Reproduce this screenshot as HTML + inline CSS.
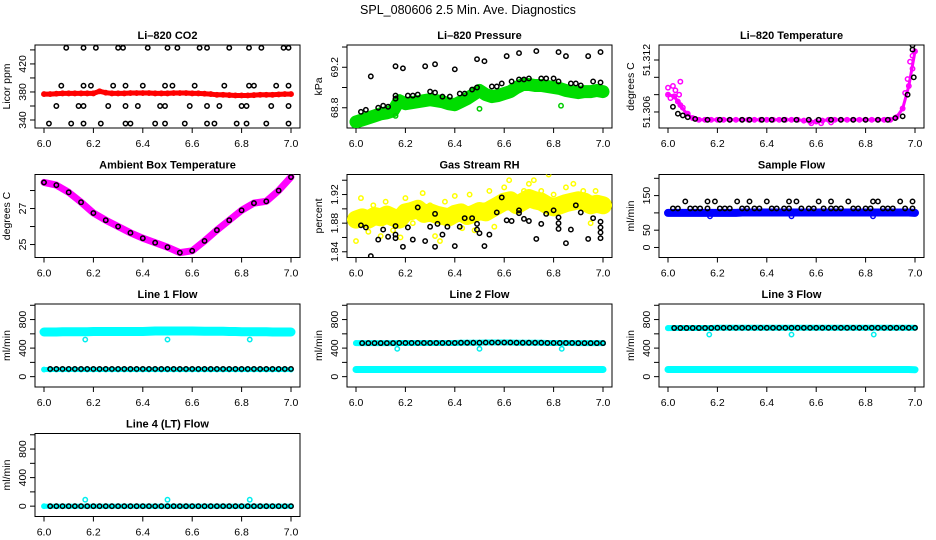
<!DOCTYPE html>
<html><head><meta charset="utf-8"><style>
html,body{margin:0;padding:0;background:#fff;}
svg{display:block;font-family:"Liberation Sans",sans-serif;}
</style></head><body>
<svg id="root" width="936" height="540" viewBox="0 0 936 540">
<text x="468" y="14" text-anchor="middle" font-size="12.5">SPL_080606  2.5 Min. Ave. Diagnostics</text>
</svg>
<script>
// shared time grid (days)
const T = [6.000,6.025,6.050,6.075,6.100,6.125,6.150,6.175,6.200,6.225,6.250,6.275,6.300,6.325,6.350,6.375,6.400,6.425,6.450,6.475,6.500,6.525,6.550,6.575,6.600,6.625,6.650,6.675,6.700,6.725,6.750,6.775,6.800,6.825,6.850,6.875,6.900,6.925,6.950,6.975,7.000];
const xTicks = [6.0,6.2,6.4,6.6,6.8,7.0];
const xTickLabels = ["6.0","6.2","6.4","6.6","6.8","7.0"];

// CO2
const co2Red = [377,377,377.5,378,378,378,378,378,378,381,379,378,378,378,378.5,378.5,378.5,378.5,378,378,378,378.5,378.5,378.5,378,378,377.5,377,376,376,375.5,375,375,375,375.5,376,376,376,376.5,377,377];
const co2BlkX = [6.09,6.16,6.21,6.30,6.32,6.42,6.50,6.54,6.63,6.66,6.75,6.83,6.88,6.97,6.99, 6.07,6.16,6.19,6.28,6.33,6.40,6.49,6.52,6.61,6.73,6.83,6.85,6.94,6.99, 6.05,6.14,6.16,6.26,6.33,6.38,6.47,6.49,6.59,6.66,6.71,6.80,6.82,6.92,6.99, 6.02,6.11,6.16,6.23,6.33,6.35,6.45,6.49,6.57,6.66,6.69,6.78,6.82,6.90,6.99];
const co2BlkY = [443,443,443,443,443,443,443,443,443,443,443,443,443,443,443, 389,389,389,389,389,389,389,389,389,389,389,389,389,389, 360,360,360,360,360,360,360,360,360,360,360,360,360,360,360, 335,335,335,335,335,335,335,335,335,335,335,335,335,335,335];

// Pressure
const presGreen = [68.66,68.68,68.70,68.72,68.74,68.75,68.77,68.87,68.84,68.85,68.86,68.87,68.88,68.87,68.86,68.84,68.83,68.86,68.89,68.93,68.97,68.93,68.91,68.92,68.94,68.96,69.00,69.03,69.03,69.02,69.02,69.01,69.00,68.99,68.97,68.96,68.95,68.96,68.96,68.97,68.96];
const presGreenOutX = [6.16,6.50,6.83];
const presGreenOutY = [68.72,68.79,68.82];
const presBlkX = [6.02,6.04,6.06,6.09,6.11,6.13,6.16,6.16,6.16,6.19,6.21,6.23,6.25,6.28,6.30,6.32,6.32,6.35,6.38,6.40,6.42,6.44,6.47,6.49,6.49,6.52,6.55,6.57,6.59,6.61,6.63,6.66,6.66,6.68,6.70,6.73,6.75,6.77,6.80,6.82,6.82,6.85,6.87,6.89,6.91,6.94,6.96,6.99,6.99];
const presBlkY = [68.76,68.78,69.11,68.80,68.82,68.81,68.89,68.92,69.21,69.19,68.92,68.92,68.93,69.21,68.96,69.23,68.95,68.91,68.91,69.18,68.94,68.94,68.98,69.00,69.28,69.26,69.01,69.01,69.04,69.31,69.06,69.08,69.34,69.08,69.09,69.36,69.09,69.09,69.09,69.35,69.06,69.31,69.04,69.04,69.02,69.31,69.06,69.35,69.05];

// Li-820 temperature
const tempPink = [51.3080,51.3078,51.3068,51.3058,51.3053,51.3051,51.3051,51.3051,51.3051,51.3051,51.3051,51.3051,51.3051,51.3051,51.3051,51.3051,51.3051,51.3051,51.3051,51.3051,51.3051,51.3051,51.3050,51.3049,51.3049,51.3050,51.3051,51.3051,51.3051,51.3051,51.3051,51.3051,51.3051,51.3051,51.3051,51.3051,51.3051,51.3054,51.3064,51.3090,51.3130];
const tempPinkX = [6.00,6.01,6.03,6.04,6.05,6.06,6.08,6.96,6.97,6.98,6.99,6.99,6.58,6.62,6.66,6.02,6.045];
const tempPinkY = [51.3088,51.3076,51.3085,51.3072,51.3095,51.3065,51.3058,51.3082,51.3098,51.3118,51.3125,51.3110,51.3047,51.3047,51.3048,51.3090,51.3080];
const tempBlkX = [6.02,6.04,6.06,6.08,6.11,6.16,6.21,6.25,6.30,6.33,6.38,6.42,6.47,6.52,6.57,6.61,6.66,6.70,6.75,6.80,6.85,6.89,6.92,6.95,6.97,6.99,6.99,6.995];
const tempBlkY = [51.3066,51.3058,51.3056,51.3054,51.3052,51.3051,51.3051,51.3051,51.3051,51.3051,51.3051,51.3051,51.3051,51.3051,51.3051,51.3051,51.3051,51.3051,51.3051,51.3051,51.3051,51.3051,51.3053,51.3055,51.3080,51.3132,51.3137,51.3100];

// Ambient box temperature
const ambX = [6.00,6.05,6.10,6.15,6.20,6.25,6.30,6.35,6.40,6.45,6.50,6.55,6.60,6.65,6.70,6.75,6.80,6.85,6.90,6.95,7.00];
const ambY = [28.45,28.3,27.9,27.35,26.75,26.35,26.0,25.65,25.35,25.1,24.85,24.55,24.65,25.2,25.8,26.35,26.9,27.3,27.4,28.0,28.75];

// Gas stream RH
const rhYellow = [1.885,1.888,1.885,1.89,1.888,1.892,1.888,1.885,1.895,1.897,1.9,1.893,1.895,1.892,1.89,1.888,1.893,1.895,1.89,1.893,1.897,1.895,1.9,1.905,1.91,1.912,1.905,1.91,1.915,1.912,1.91,1.905,1.902,1.905,1.908,1.91,1.912,1.91,1.905,1.907,1.905];
const rhYX = [6.0,6.02,6.05,6.07,6.1,6.12,6.15,6.18,6.2,6.23,6.27,6.3,6.32,6.34,6.36,6.4,6.43,6.46,6.48,6.52,6.54,6.56,6.6,6.62,6.65,6.68,6.7,6.72,6.75,6.78,6.8,6.82,6.85,6.88,6.9,6.92,6.95,6.97,6.99];
const rhYY = [1.855,1.915,1.868,1.905,1.862,1.91,1.87,1.86,1.915,1.88,1.922,1.905,1.862,1.855,1.91,1.918,1.873,1.92,1.87,1.905,1.925,1.875,1.93,1.94,1.9,1.925,1.935,1.94,1.925,1.948,1.92,1.895,1.93,1.935,1.915,1.925,1.88,1.925,1.9];
const rhBX = [6.02,6.04,6.06,6.09,6.11,6.13,6.16,6.16,6.16,6.19,6.21,6.23,6.25,6.28,6.30,6.32,6.32,6.33,6.35,6.37,6.40,6.42,6.44,6.47,6.49,6.49,6.50,6.52,6.54,6.57,6.59,6.61,6.63,6.66,6.66,6.68,6.70,6.73,6.75,6.77,6.80,6.82,6.82,6.82,6.85,6.87,6.89,6.91,6.94,6.96,6.99,6.99,6.99,6.99];
const rhBY = [1.877,1.874,1.834,1.857,1.871,1.861,1.859,1.876,1.864,1.847,1.874,1.857,1.902,1.855,1.875,1.847,1.893,1.879,1.864,1.875,1.848,1.875,1.887,1.887,1.879,1.871,1.866,1.848,1.864,1.895,1.916,1.884,1.883,1.894,1.898,1.886,1.883,1.858,1.879,1.893,1.898,1.888,1.872,1.880,1.852,1.871,1.905,1.895,1.858,1.887,1.859,1.874,1.882,1.867];

// Sample flow
const sfBlue = [100,100,100,100,100,100,100,100,100,100,100,100,101,101,101,101,101,101,101,101,101,101,101,101,101,101,101,101,101,101,101,101,101,101,101,101,101,101,101,101,100];
const sfBlueOutX = [6.17,6.50,6.83];
const sfBlueOutY = [90,90,90];
const sfBX = [6.07,6.16,6.19,6.28,6.33,6.40,6.49,6.52,6.61,6.66,6.73,6.83,6.85,6.94,6.99, 6.02,6.04,6.09,6.11,6.13,6.16,6.21,6.23,6.25,6.30,6.32,6.35,6.37,6.42,6.44,6.47,6.49,6.54,6.57,6.59,6.63,6.66,6.68,6.70,6.75,6.77,6.80,6.82,6.87,6.89,6.91,6.96,6.99];
const sfBY = [133,133,133,133,133,133,133,133,133,133,133,133,133,133,133, 113,113,113,113,113,113,113,113,113,113,113,113,113,113,113,113,113,113,113,113,113,113,113,113,113,113,113,113,113,113,113,113,113];

// Line flows
const l1CyanHi = [625,625,625,630,630,630,630,630,632,632,632,632,632,632,632,632,632,635,640,640,640,640,640,640,640,638,635,635,635,635,632,632,630,630,630,628,628,625,625,625,625];
const l1CyanLo = [100,100,100,100,100,100,100,100,100,100,100,100,100,100,100,100,100,100,100,100,100,100,100,100,100,100,100,100,100,100,100,100,100,100,100,100,100,100,100,100,100];
const l1Black = [108,108,108,108,108,108,108,108,108,108,108,108,108,108,108,108,108,108,108,108,108,108,108,108,108,108,108,108,108,108,108,108,108,108,108,108,108,108,108,108,108];
const l1OutY = [520,520,520];
const l2High = [470,470,470,470,470,470,470,472,472,472,472,472,472,472,472,472,472,475,475,475,475,478,478,478,478,478,475,475,475,475,475,472,472,472,472,472,470,470,470,470,470];
const l2Low = [100,100,100,100,100,100,100,100,100,100,100,100,100,100,100,100,100,100,100,100,100,100,100,100,100,100,100,100,100,100,100,100,100,100,100,100,100,100,100,100,100];
const l2OutY = [390,390,390];
const l3High = [680,682,682,682,682,682,682,682,684,684,684,684,684,684,684,684,684,684,684,684,684,684,684,684,684,684,684,684,684,684,684,684,684,684,684,684,684,684,684,684,684];
const l3Low = [100,100,100,100,100,100,100,100,100,100,100,100,100,100,100,100,100,100,100,100,100,100,100,100,100,100,100,100,100,100,100,100,100,100,100,100,100,100,100,100,98];
const l3OutY = [590,590,590];
const l4Val = [0,0,0,0,0,0,0,0,0,0,0,0,0,0,0,0,0,0,0,0,0,0,0,0,0,0,0,0,0,0,0,0,0,0,0,0,0,0,0,0,0];
const l4OutY = [90,90,90];
const flowOutX = [6.167,6.50,6.833];

const NS = "http://www.w3.org/2000/svg";
const root = document.getElementById('root');
function mk(tag, attrs, parent){ const e=document.createElementNS(NS,tag); for(const k in attrs) e.setAttribute(k,attrs[k]); (parent||root).appendChild(e); return e; }

function panel(col,row,name,title,ylab,dom,ticks,labels){
  const L=35+312*col, R=300+312*col, top=45+129.5*row, bot=top+83;
  const g=mk('g',{});
  
  
  const xs=v=>44+312*col+(v-6)*247;
  const ys=v=>bot-(v-dom[0])/(dom[1]-dom[0])*83;
  const box=mk('rect',{x:L,y:top,width:R-L,height:83,fill:'none',stroke:'#000','stroke-width':1},g);
  
  
  const t=mk('text',{x:(L+R)/2,y:top-6,'text-anchor':'middle','font-size':11,'font-weight':'bold'},g);
  t.textContent=title;
  
  
  const yl=mk('text',{transform:`translate(${L-25},${(top+bot)/2}) rotate(-90)`,'text-anchor':'middle','font-size':10.5},g);
  yl.textContent=ylab;
  
  
  const ya=mk('g',{},g);
  
  
  ticks.forEach((v,i)=>{ const y=ys(v); mk('line',{x1:L-5,x2:L,y1:y,y2:y,stroke:'#000'},ya);
    if(labels[i]){ const tx=mk('text',{transform:`translate(${L-9},${y}) rotate(-90)`,'text-anchor':'middle','font-size':10.5},ya); tx.textContent=labels[i];
      
       } });
  const xa=mk('g',{},g);
  
  
  xTicks.forEach((v,i)=>{ const x=xs(v); mk('line',{x1:x,x2:x,y1:bot,y2:bot+5,stroke:'#000'},xa);
    const tx=mk('text',{x:x,y:bot+19,'text-anchor':'middle','font-size':10.5},xa); tx.textContent=xTickLabels[i];
    
     });
  const clip='c'+name; const cp=mk('clipPath',{id:clip},g); mk('rect',{x:L,y:top,width:R-L,height:83},cp);
  const marks=mk('g',{'clip-path':`url(#${clip})`},g);
  return {xs,ys,g:marks};
}
function band(p,xArr,yArr,color,w,name){
  const d=xArr.map((x,i)=>(i?'L':'M')+p.xs(x).toFixed(1)+','+p.ys(yArr[i]).toFixed(1)).join('');
  const e=mk('path',{d:d,fill:'none',stroke:color,'stroke-width':w,'stroke-linejoin':'round','stroke-linecap':'round'},p.g);
  
  
  xArr.forEach((x,i)=>{ const c=mk('circle',{cx:p.xs(x),cy:p.ys(yArr[i]),r:2.2,fill:'none',stroke:color,'stroke-width':1.5},p.g);
    
     });
}
function pts(p,xArr,yArr,color,name){
  xArr.forEach((x,i)=>{ const c=mk('circle',{cx:p.xs(x),cy:p.ys(yArr[i]),r:2.2,fill:'none',stroke:color,'stroke-width':1.5},p.g);
    
     });
}
const flowTicks=[0,200,400,600,800,1000], flowLabels=["0","","400","","800",""], flowDom=[-145,1018];

let p=panel(0,0,'co2','Li\u2013820 CO2','Licor ppm',[328.6,447],[340,360,380,400,420,440],["340","","380","","420",""]);
band(p,T,co2Red,'#ff0000',5,'co2-red-series');
pts(p,co2BlkX,co2BlkY,'#000','co2-black-point');

p=panel(1,0,'pressure','Li\u2013820 Pressure','kPa',[68.6,69.42],[68.8,69.0,69.2,69.4],["68.8","","69.2",""]);
band(p,T,presGreen,'#00dd00',13,'pressure-green-series');
pts(p,presGreenOutX,presGreenOutY,'#00cc00','pressure-green-outlier');
pts(p,presBlkX,presBlkY,'#000','pressure-black-point');

p=panel(2,0,'li820-temp','Li\u2013820 Temperature','degrees C',[51.30415,51.31373],[51.306,51.308,51.310,51.312],["51.306","","","51.312"]);
band(p,T,tempPink,'#ff00ff',3,'temp-pink-series');
pts(p,tempPinkX,tempPinkY,'#ff00ff','temp-pink-point');
pts(p,tempBlkX,tempBlkY,'#000','temp-black-point');

p=panel(0,1,'ambient','Ambient Box Temperature','degrees C',[24.28,28.89],[25,26,27,28],["25","","27",""]);
band(p,ambX,ambY,'#ff00ff',7,'ambient-pink-series');
pts(p,ambX,ambY,'#000','ambient-black-point');

p=panel(1,1,'rh','Gas Stream RH','percent',[1.832,1.948],[1.84,1.86,1.88,1.90,1.92,1.94],["1.84","","1.88","","1.92",""]);
band(p,T,rhYellow,'#ffff00',18,'rh-yellow-series');
pts(p,rhYX,rhYY,'#ffff00','rh-yellow-point');
pts(p,rhBX,rhBY,'#000','rh-black-point');

p=panel(2,1,'sample-flow','Sample Flow','ml/min',[-29,211],[0,50,100,150,200],["0","50","","150",""]);
band(p,T,sfBlue,'#0000ff',8,'sample-flow-blue-series');
pts(p,sfBlueOutX,sfBlueOutY,'#0000ff','sample-flow-blue-outlier');
pts(p,sfBX,sfBY,'#000','sample-flow-black-point');

p=panel(0,2,'line1','Line 1 Flow','ml/min',flowDom,flowTicks,flowLabels);
band(p,T,l1CyanHi,'#00ffff',9,'line1-cyan-high');
band(p,T,l1CyanLo,'#00ffff',5,'line1-cyan-low');
pts(p,T.slice(1),l1Black.slice(1),'#000','line1-black-point');
pts(p,flowOutX,l1OutY,'#00eeee','line1-outlier');

p=panel(1,2,'line2','Line 2 Flow','ml/min',flowDom,flowTicks,flowLabels);
band(p,T,l2High,'#00ffff',6,'line2-cyan-high');
band(p,T,l2Low,'#00ffff',7,'line2-cyan-low');
pts(p,T.slice(1),l2High.slice(1),'#000','line2-black-point');
pts(p,flowOutX,l2OutY,'#00eeee','line2-outlier');

p=panel(2,2,'line3','Line 3 Flow','ml/min',flowDom,flowTicks,flowLabels);
band(p,T,l3High,'#00ffff',6,'line3-cyan-high');
band(p,T,l3Low,'#00ffff',7,'line3-cyan-low');
pts(p,T.slice(1),l3High.slice(1),'#000','line3-black-point');
pts(p,flowOutX,l3OutY,'#00eeee','line3-outlier');

p=panel(0,3,'line4','Line 4 (LT) Flow','ml/min',flowDom,flowTicks,flowLabels);
band(p,T,l4Val,'#00ffff',5,'line4-cyan-series');
pts(p,T.slice(1),l4Val.slice(1),'#000','line4-black-point');
pts(p,flowOutX,l4OutY,'#00eeee','line4-outlier');
</script>
</body></html>
